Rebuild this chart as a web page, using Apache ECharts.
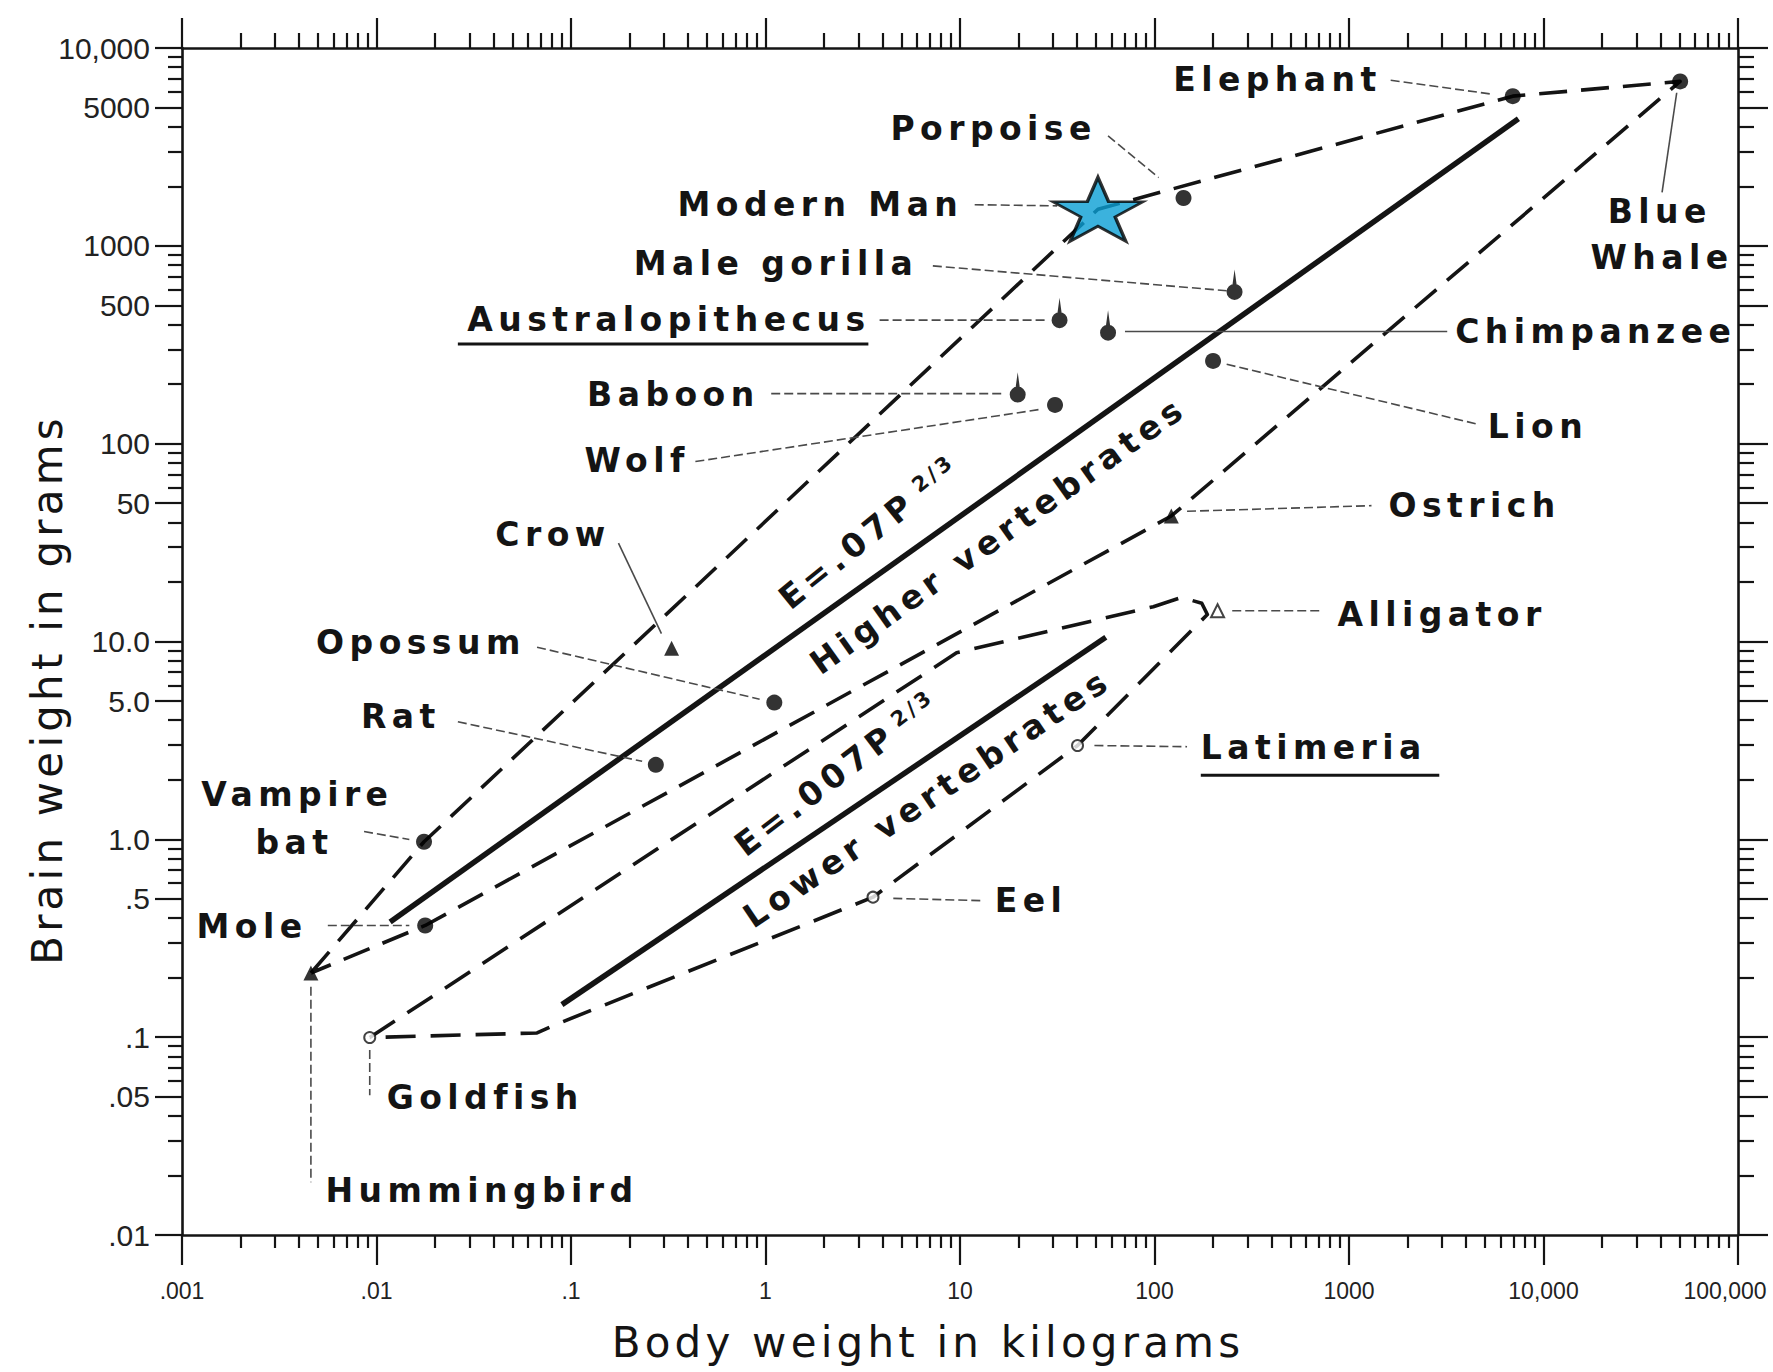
<!DOCTYPE html>
<html>
<head>
<meta charset="utf-8">
<script src="https://cdn.jsdelivr.net/npm/echarts@6/dist/echarts.min.js"></script>
<style>
html,body{margin:0;padding:0;background:#fff;}
#chart{width:1773px;height:1372px;}
#chart svg text[style*="SpacedA"]{letter-spacing:0.165em;}
#chart svg text[style*="SpacedB"]{letter-spacing:0.1em;}
</style>
</head>
<body>
<div id="chart"></div>
<script>
// ---------- axis ticks ----------
const xTickValues = [0.001, 0.01, 0.1, 1, 10, 100, 1000, 10000, 100000];
const xTickLabels = ['.001', '.01', '.1', '1', '10', '100', '1000', '10,000', '100,000'];
const yTickValues = [0.01, 0.05, 0.1, 0.5, 1, 5, 10, 50, 100, 500, 1000, 5000, 10000];
const yTickLabels = ['.01', '.05', '.1', '.5', '1.0', '5.0', '10.0', '50', '100', '500', '1000', '5000', '10,000'];

// ---------- data (body weight kg, brain weight g) ----------
const dotNames  = ['Elephant', 'Blue Whale', 'Porpoise', 'Lion', 'Wolf', 'Opossum', 'Rat', 'Vampire bat', 'Mole'];
const dotBody   = [6950, 50400, 141, 200, 30.8, 1.11, 0.273, 0.01755, 0.0178];
const dotBrain  = [5710, 6780, 1746, 262, 157, 4.91, 2.38, 0.972, 0.367];

const primateNames = ['Male gorilla', 'Australopithecus', 'Chimpanzee', 'Baboon'];
const primateBody  = [258, 32.5, 57.7, 19.8];
const primateBrain = [585, 421, 364, 177];

const birdNames = ['Ostrich', 'Crow', 'Hummingbird'];
const birdBody  = [122, 0.329, 0.0046];
const birdBrain = [43.1, 9.24, 0.211];

const fishNames = ['Goldfish', 'Eel', 'Latimeria'];
const fishBody  = [0.00923, 3.57, 40.2];
const fishBrain = [0.0996, 0.51, 2.98];

const reptileNames = ['Alligator'];
const reptileBody  = [211];
const reptileBrain = [14.3];

const manNames = ['Modern Man'];
const manBody  = [51.2];
const manBrain = [1530];

// regression lines
const higherFitBody  = [0.01175, 7430];
const higherFitBrain = [0.382, 4387];
const lowerFitBody   = [0.0898, 56.2];
const lowerFitBrain  = [0.146, 10.5];

// dashed envelopes
const higherEnvBody  = [0.0046, 0.01755, 51.2, 6950, 50400, 122, 0.0178, 0.0046];
const higherEnvBrain = [0.211, 0.972, 1530, 5710, 6780, 43.1, 0.367, 0.211];
const lowerEnvBody   = [0.00923, 9.60, 98.6, 138, 175, 187, 40.2, 3.57, 0.0851, 0.0669, 0.00923];
const lowerEnvBrain  = [0.0996, 8.77, 15.0, 16.7, 15.6, 13.7, 2.98, 0.51, 0.1167, 0.1050, 0.0996];

// ---------- annotations (anchored in data space) ----------
const labelText  = ['Elephant', 'Porpoise', 'Modern Man', 'Male gorilla', 'Australopithecus', 'Baboon', 'Wolf', 'Crow',
                    'Opossum', 'Rat', 'Vampire', 'bat', 'Mole', 'Hummingbird', 'Goldfish', 'Eel', 'Latimeria',
                    'Alligator', 'Ostrich', 'Lion', 'Chimpanzee', 'Blue', 'Whale'];
const labelBody  = [1472, 50.5, 10.4, 6.09, 3.47, 0.933, 0.408, 0.160, 0.0585, 0.0214, 0.01222, 0.00601, 0.00442,
                    0.00547, 0.01128, 15.1, 173, 873, 1595, 5176, 3513, 39600, 40700];
const labelBrain = [6955, 3898, 1614, 813, 426, 176.6, 82.2, 34.9, 9.87, 4.19, 1.69, 0.959, 0.362,
                    0.01684, 0.0496, 0.490, 2.90, 13.7, 48.6, 122, 369, 1490, 869];
const labelAlign = ['right', 'right', 'right', 'right', 'right', 'right', 'right', 'right', 'right', 'right', 'right', 'right', 'right',
                    'left', 'left', 'left', 'left', 'left', 'left', 'left', 'left', 'center', 'center'];

const leaderBody1  = [1638, 57.7, 11.9, 7.25, 3.86, 70.5, 235, 1.07, 0.436, 0.1754, 0.0669, 0.0262, 0.00863, 0.00562, 0.0046, 0.00923, 4.54, 49.1, 251, 147, 48400];
const leaderBrain1 = [6870, 3600, 1614, 792, 421, 369, 252, 179, 81.2, 31.4, 9.36, 3.93, 1.095, 0.367, 0.180, 0.0862, 0.503, 2.98, 14.3, 45.5, 5940];
const leaderBody2  = [5318, 105, 31.6, 235, 27.6, 3199, 4654, 16.8, 25.8, 0.2917, 0.933, 0.2322, 0.01475, 0.01475, 0.0046, 0.00923, 12.9, 147, 734, 1305, 40700];
const leaderBrain2 = [5861, 2213, 1592, 593, 421, 369, 125, 179, 149, 10.96, 5.11, 2.48, 0.998, 0.367, 0.01847, 0.0509, 0.490, 2.94, 14.3, 48.6, 1862];
const leaderSolid  = [false, false, false, false, false, true, false, false, false, true, false, false, false, false, false, false, false, false, false, false, true];

const underlineBody1 = [0.0262, 173];
const underlineBody2 = [3.38, 2912];
const underlineBrain = [319, 2.11];

const rotText  = ['E=.07P', 'Higher vertebrates', 'E=.007P', 'Lower vertebrates'];
const rotSup   = ['2/3', '', '2/3', ''];
const rotBody  = [3.60, 15.7, 2.48, 6.78];
const rotBrain = [37.0, 34.5, 2.26, 1.62];
const rotFit   = [0, 0, 1, 1];

// ---------- helpers ----------
const INK = '#141414';
const LABEL_FONT = 'SpacedA, DejaVu Sans, sans-serif';
const TITLE_FONT = 'SpacedB, DejaVu Sans, sans-serif';

function pairs(a, b, names) { return a.map((v, i) => names ? [v, b[i], names[i]] : [v, b[i]]); }
function minorTicks(lo, hi, skip) {
  const out = [];
  for (let e = lo; e < hi; e++) {
    const b = Math.pow(10, e);
    for (let m = 2; m <= 9; m++) { if (skip.indexOf(m) < 0) out.push(+(m * b).toPrecision(6)); }
  }
  return out;
}
function nearestIndex(vals, v) {
  let best = 0, bd = Infinity;
  for (let i = 0; i < vals.length; i++) {
    const d = Math.abs(Math.log10(vals[i]) - Math.log10(v));
    if (d < bd) { bd = d; best = i; }
  }
  return best;
}
const xMinor = minorTicks(-3, 5, []);
const yMinor = minorTicks(-2, 4, [5]);

function makeAxis(dim, position, ticks, tickLen, showLine) {
  const isX = dim === 'x';
  return {
    type: 'log', logBase: 10,
    min: isX ? 0.001 : 0.01, max: isX ? 100000 : 10000,
    position: position,
    axisLine: { show: showLine, onZero: false, lineStyle: { color: INK, width: 2.6 } },
    axisTick: { show: true, inside: false, length: tickLen, customValues: ticks, lineStyle: { color: INK, width: 2.2 } },
    axisLabel: { show: false },
    splitLine: { show: false }, minorTick: { show: false }, minorSplitLine: { show: false },
    silent: true, z: 3
  };
}

const xAxes = [
  makeAxis('x', 'bottom', xTickValues, 30, true),
  makeAxis('x', 'bottom', xMinor, 13, false),
  makeAxis('x', 'top', xTickValues, 30, true),
  makeAxis('x', 'top', xMinor, 15, false)
];
const yAxes = [
  makeAxis('y', 'left', yTickValues, 27, true),
  makeAxis('y', 'left', yMinor, 14, false),
  makeAxis('y', 'right', yTickValues, 30, true),
  makeAxis('y', 'right', yMinor, 16, false)
];
Object.assign(xAxes[0], {
  axisLabel: {
    show: true, customValues: xTickValues, margin: 44,
    color: '#222', fontFamily: 'Liberation Sans', fontSize: 23,
    formatter: function (v) {
      const i = nearestIndex(xTickValues, v);
      return i === xTickValues.length - 1 ? '{r|' + xTickLabels[i] + '}' : xTickLabels[i];
    },
    rich: { r: { color: '#222', fontFamily: 'Liberation Sans', fontSize: 23, padding: [0, 26, 0, 0] } }
  },
  name: 'Body weight in kilograms', nameLocation: 'middle', nameGap: 86, nameMoveOverlap: false,
  nameTextStyle: { fontFamily: TITLE_FONT, fontSize: 42, color: INK, padding: [0, 64, 0, 0] }
});
Object.assign(yAxes[0], {
  axisLabel: {
    show: true, customValues: yTickValues, margin: 32,
    color: '#222', fontFamily: 'Liberation Sans', fontSize: 30,
    formatter: function (v) { return yTickLabels[nearestIndex(yTickValues, v)]; }
  },
  name: 'Brain weight in grams', nameLocation: 'middle', nameGap: 114, nameMoveOverlap: false,
  nameTextStyle: { fontFamily: TITLE_FONT, fontSize: 42, color: INK, padding: [0, 96, 0, 0] }
});

function lineSeries(name, body, brain, width, dash, z) {
  return {
    type: 'line', name: name, xAxisIndex: 0, yAxisIndex: 0, data: pairs(body, brain),
    symbol: 'none', showSymbol: false, silent: true, z: z, animation: false,
    lineStyle: { color: INK, width: width, type: dash, cap: 'butt', join: 'round' }
  };
}

const STEM_DOT = 'path://M5,0L6.5,11L3.5,11Z M0,14A5,5,0,1,1,10,14A5,5,0,1,1,0,14Z';
const STAR = 'path://M50,0L61.23,34.55L97.55,34.55L68.17,55.9L79.39,90.45L50,69.1L20.61,90.45L31.83,55.9L2.45,34.55L38.77,34.55Z';

const chart = echarts.init(document.getElementById('chart'), null, { renderer: 'svg', width: 1773, height: 1372 });

chart.setOption({
  animation: false,
  backgroundColor: '#ffffff',
  grid: { left: 182, right: 35, top: 48, bottom: 137, containLabel: false, outerBoundsMode: 'none' },
  xAxis: xAxes,
  yAxis: yAxes,
  series: [
    lineSeries('Higher envelope', higherEnvBody, higherEnvBrain, 3.6, [28, 14], 2),
    lineSeries('Lower envelope', lowerEnvBody, lowerEnvBrain, 3.6, [30, 15], 2),
    lineSeries('Higher vertebrates fit', higherFitBody, higherFitBrain, 5.5, 'solid', 3),
    lineSeries('Lower vertebrates fit', lowerFitBody, lowerFitBrain, 5.5, 'solid', 3),
    {
      type: 'custom', name: 'leaders', coordinateSystem: 'cartesian2d', xAxisIndex: 0, yAxisIndex: 0, silent: true, z: 4,
      data: leaderBody1.map((v, i) => [v, leaderBrain1[i], leaderBody2[i], leaderBrain2[i]]),
      encode: { x: [0, 2], y: [1, 3] },
      renderItem: function (params, api) {
        const i = params.dataIndex;
        const a = api.coord([api.value(0), api.value(1)]);
        const b = api.coord([api.value(2), api.value(3)]);
        return { type: 'line', shape: { x1: a[0], y1: a[1], x2: b[0], y2: b[1] },
                 style: { stroke: '#4a4a4a', lineWidth: 1.6, lineDash: leaderSolid[i] ? null : [9, 4] } };
      }
    },
    {
      type: 'custom', name: 'underlines', coordinateSystem: 'cartesian2d', xAxisIndex: 0, yAxisIndex: 0, silent: true, z: 4,
      data: underlineBody1.map((v, i) => [v, underlineBrain[i], underlineBody2[i]]),
      encode: { x: [0, 2], y: 1 },
      renderItem: function (params, api) {
        const a = api.coord([api.value(0), api.value(1)]);
        const b = api.coord([api.value(2), api.value(1)]);
        return { type: 'line', shape: { x1: a[0], y1: a[1], x2: b[0], y2: b[1] },
                 style: { stroke: INK, lineWidth: 3 } };
      }
    },
    {
      type: 'scatter', name: 'Mammals', xAxisIndex: 0, yAxisIndex: 0, z: 6,
      data: pairs(dotBody, dotBrain, dotNames), symbol: 'circle', symbolSize: 16,
      itemStyle: { color: '#000' }
    },
    {
      type: 'scatter', name: 'Primates', xAxisIndex: 0, yAxisIndex: 0, z: 6,
      data: pairs(primateBody, primateBrain, primateNames), symbol: STEM_DOT, symbolSize: [16, 30.4], symbolOffset: [0, -7.2],
      itemStyle: { color: '#000' }
    },
    {
      type: 'scatter', name: 'Birds', xAxisIndex: 0, yAxisIndex: 0, z: 6,
      data: pairs(birdBody, birdBrain, birdNames), symbol: 'triangle', symbolSize: 15,
      itemStyle: { color: '#000' }
    },
    {
      type: 'scatter', name: 'Fishes', xAxisIndex: 0, yAxisIndex: 0, z: 6,
      data: pairs(fishBody, fishBrain, fishNames), symbol: 'circle', symbolSize: 11,
      itemStyle: { color: '#ffffff', borderColor: INK, borderWidth: 2 }
    },
    {
      type: 'scatter', name: 'Reptiles', xAxisIndex: 0, yAxisIndex: 0, z: 6,
      data: pairs(reptileBody, reptileBrain, reptileNames), symbol: 'triangle', symbolSize: 13,
      itemStyle: { color: '#ffffff', borderColor: INK, borderWidth: 2 }
    },
    {
      type: 'scatter', name: 'Modern Man', xAxisIndex: 0, yAxisIndex: 0, z: 9,
      data: pairs(manBody, manBrain, manNames), symbol: STAR, symbolSize: [90, 64],
      itemStyle: { color: '#0a9fd4', borderColor: '#000000', borderWidth: 3 }
    },
    {
      type: 'custom', name: 'labels', coordinateSystem: 'cartesian2d', xAxisIndex: 0, yAxisIndex: 0, silent: true, z: 7,
      data: labelBody.map((v, i) => [v, labelBrain[i]]),
      encode: { x: 0, y: 1 },
      renderItem: function (params, api) {
        const i = params.dataIndex;
        const p = api.coord([api.value(0), api.value(1)]);
        return { type: 'text', x: p[0], y: p[1],
                 style: { text: labelText[i], align: labelAlign[i], verticalAlign: 'middle', fill: INK,
                          fontSize: 33, fontWeight: 'bold', fontFamily: LABEL_FONT } };
      }
    },
    {
      type: 'custom', name: 'equations', coordinateSystem: 'cartesian2d', xAxisIndex: 0, yAxisIndex: 0, silent: true, z: 7,
      data: rotBody.map((v, i) => [v, rotBrain[i]]),
      encode: { x: 0, y: 1 },
      renderItem: function (params, api) {
        const i = params.dataIndex;
        const p = api.coord([api.value(0), api.value(1)]);
        const fb = rotFit[i] === 0 ? higherFitBody : lowerFitBody;
        const fr = rotFit[i] === 0 ? higherFitBrain : lowerFitBrain;
        const a = api.coord([fb[0], fr[0]]);
        const b = api.coord([fb[1], fr[1]]);
        const isFormula = rotSup[i] !== '';
        const ang = Math.atan2(a[1] - b[1], b[0] - a[0]) + (isFormula ? 0.06 : 0);
        const st = { align: 'center', verticalAlign: 'middle', fill: INK, fontSize: 33, fontWeight: 'bold', fontFamily: LABEL_FONT };
        if (isFormula) {
          st.text = '{m|' + rotText[i] + '}{s|' + rotSup[i] + '}';
          st.rich = {
            m: { fontSize: 33, fontWeight: 'bold', fontFamily: LABEL_FONT, fill: INK },
            s: { fontSize: 21, fontWeight: 'bold', fontFamily: LABEL_FONT, fill: INK, verticalAlign: 'top', padding: [0, 0, 0, 30] }
          };
        } else {
          st.text = rotText[i];
        }
        return { type: 'text', x: p[0], y: p[1], rotation: ang, style: st };
      }
    }
  ]
});
</script>
</body>
</html>
